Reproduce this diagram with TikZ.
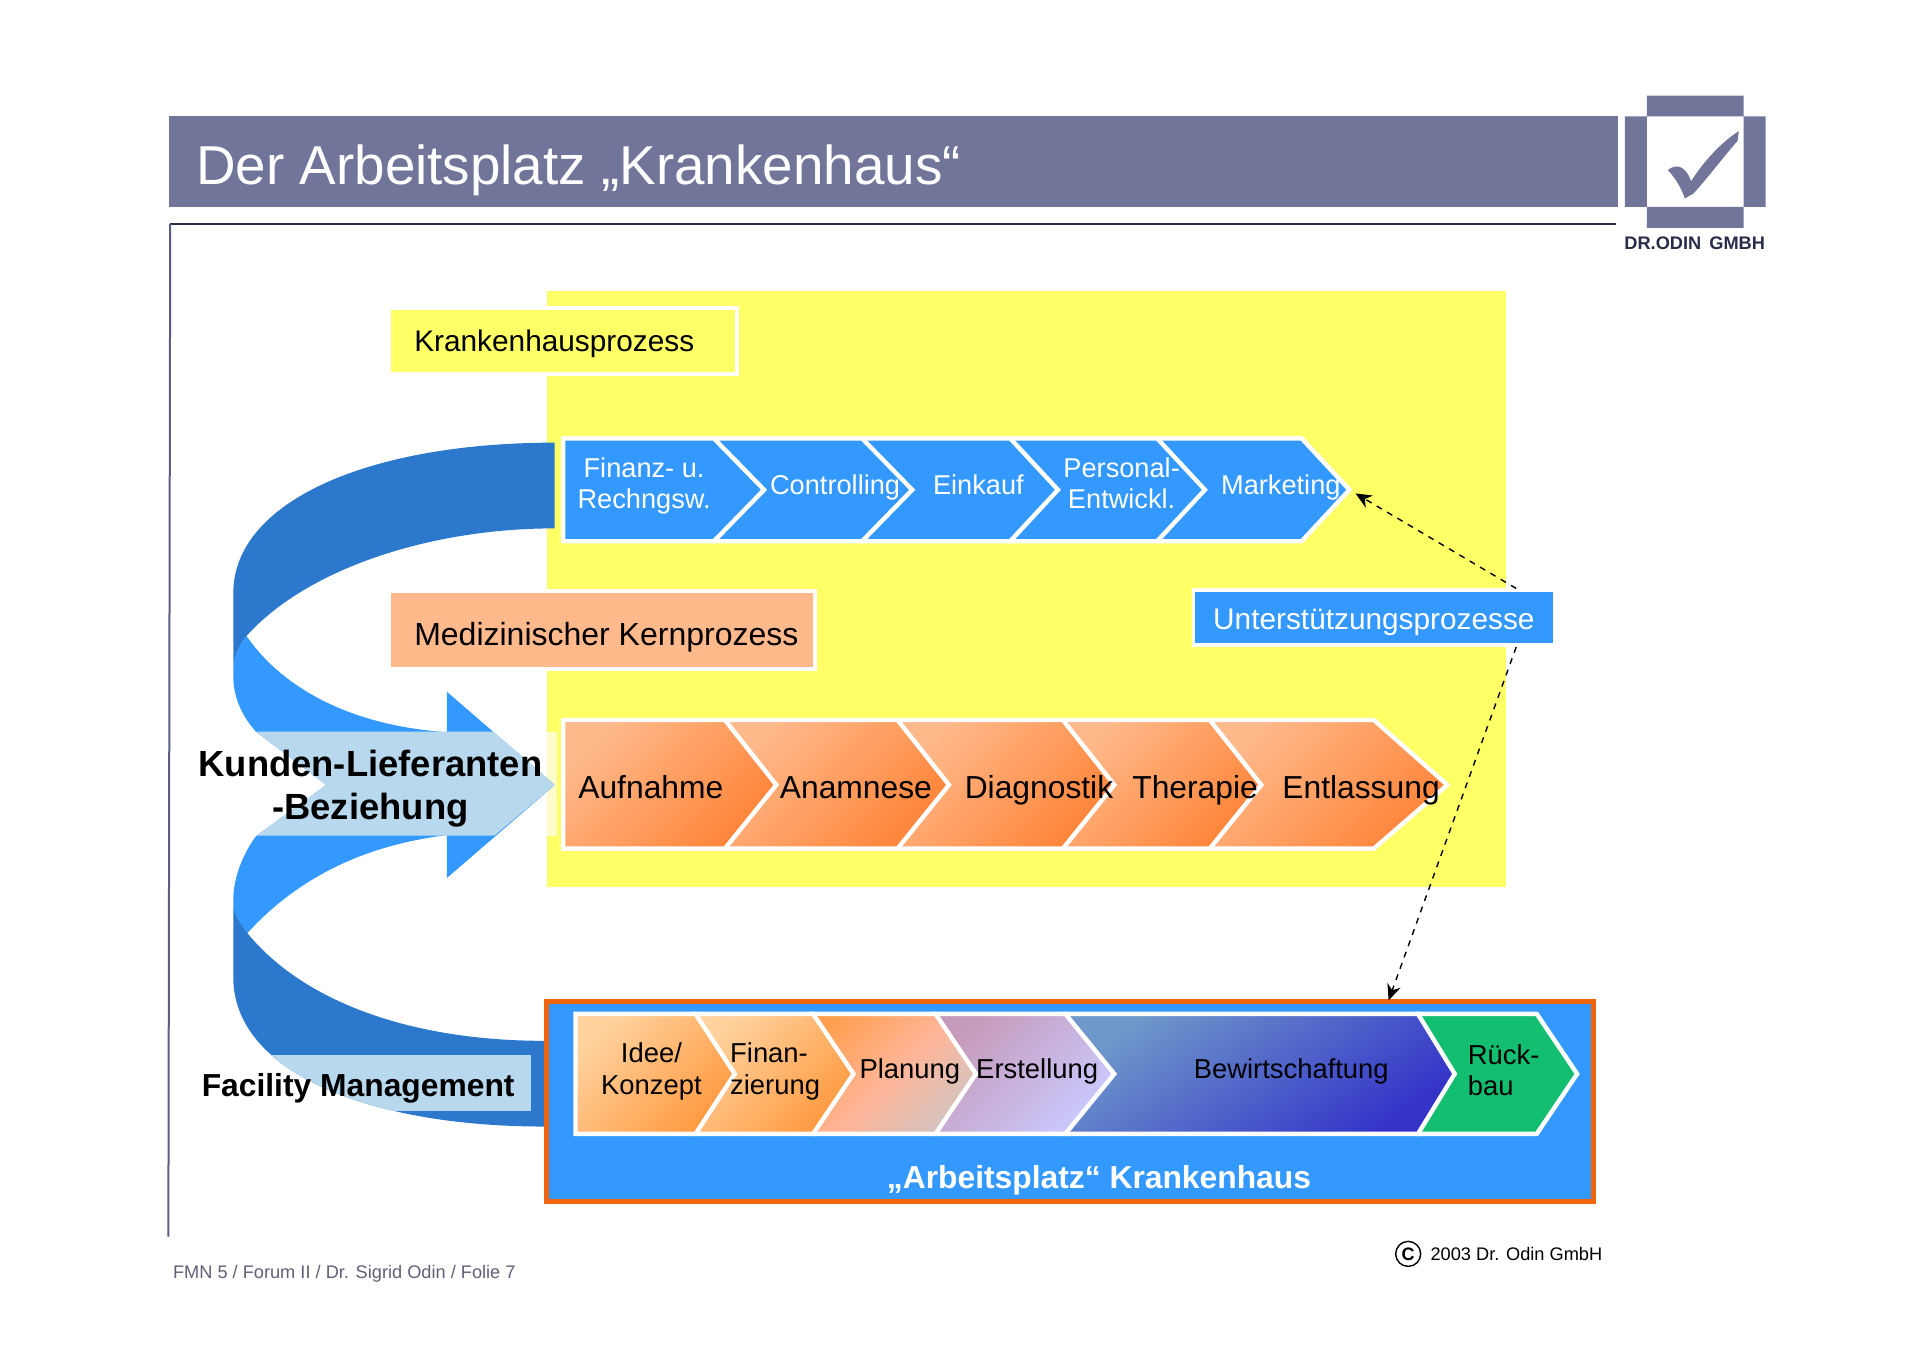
\documentclass[tikz,border=0pt]{standalone}
\usepackage{fontspec}
\setmainfont{Liberation Sans}
\usetikzlibrary{arrows.meta,shadings}
\definecolor{slate}{HTML}{71759A}
\definecolor{navy}{HTML}{2A2D4A}
\definecolor{yel}{HTML}{FFFF66}
\definecolor{sky}{HTML}{3399FF}
\definecolor{rib}{HTML}{2B78CC}
\definecolor{pale}{HTML}{B8D8EE}
\definecolor{peach}{HTML}{FFB98B}
\definecolor{hot}{HTML}{FF8438}
\definecolor{frame}{HTML}{F0650E}
\definecolor{grn}{HTML}{14BE70}
\definecolor{creamA}{HTML}{FFD29E}
\definecolor{creamB}{HTML}{FF9A40}
\definecolor{planB}{HTML}{FFB598}
\definecolor{planC}{HTML}{C8C8CC}
\definecolor{ersA}{HTML}{C69ABA}
\definecolor{ersB}{HTML}{CACAFF}
\definecolor{bewA}{HTML}{6F98CA}
\definecolor{bewB}{HTML}{3333C8}
\pgfdeclareverticalshading{planshade}{100bp}{color(0bp)=(planC); color(18bp)=(planC); color(50bp)=(planB); color(85bp)=(creamB); color(100bp)=(creamB)}
\newcommand{\fs}[1]{\fontsize{#1}{#1}\selectfont}
\tikzset{
  x=0.61224pt,y=-0.61224pt,
  plate/.style={draw=white,line width=2.2pt,miter limit=10},
  blueplate/.style={plate,fill=sky},
  orangeplate/.style={plate,shading=axis,top color=peach,bottom color=hot,shading angle=45},
  creamplate/.style={plate,shading=axis,top color=creamA,bottom color=creamB,shading angle=45},
  bluetext/.style={text=white,font=\fs{13.6},align=center,inner sep=0pt},
  blueline/.style={bluetext,anchor=base},
  blacktext/.style={text=black,font=\fs{15.9},inner sep=0pt,anchor=base},
  lowtext/.style={text=black,font=\fs{13.7},align=center,inner sep=0pt},
  lowline/.style={lowtext,anchor=base},
  lefttext/.style={lowtext,align=left},
  dashline/.style={black,line width=0.7pt,dashed,-{Stealth[length=8pt,width=7pt]}},
}
\newcommand{\lowerpath}{(190.5,740) -- (190.5,798) .. controls (190.5,875) and (300,920) .. (444.5,920) -- (444.5,850) .. controls (330,850) and (245,815) .. (202,762) .. controls (197,755) and (192,748) .. cycle}
\begin{document}
\begin{tikzpicture}
\useasboundingbox (0,0) rectangle (1568,1108);
\fill[white] (0,0) rectangle (1568,1108);
% header
\fill[slate] (138,95) rectangle (1321,169);
\node[anchor=base west,inner sep=0pt,text=white,font=\fs{27.4}] (title) at (160,151) {Der Arbeitsplatz „Krankenhaus“};
\draw[navy,line width=0.7pt] (139,183) -- (1320,183);
\draw[slate!70!navy,line width=1pt] (139,183) -- (137.5,1010);
% logo
\fill[slate] (1345,78) rectangle (1424,95) (1345,169) rectangle (1424,186) (1327,95) rectangle (1345,169) (1424,95) rectangle (1442,169);
\fill[slate] (1362,139) .. controls (1368,134) and (1376,134) .. (1381,148) .. controls (1392,131) and (1405,117) .. (1420,107) -- (1419,115) .. controls (1406,130) and (1394,146) .. (1383,158) -- (1376,162) .. controls (1373,154) and (1369,146) .. cycle;
\node[inner sep=0pt,text=navy,font=\bfseries\fs{9.1}] (logotext) at (1384,199) {DR.ODIN\, GMBH};
% yellow field
\fill[yel] (447,238) rectangle (1230,724);
\fill[yellow!20!white] (447,597.5) rectangle (455,682.5);
% ribbons
\fill[rib] (453,361.5) .. controls (300,361.5) and (190.5,410) .. (190.5,484.5) -- (190.5,544) .. controls (192,535) and (196,526) .. (201.3,519.4) .. controls (250,465) and (350,431.5) .. (453,431.5) -- cycle;
\fill[sky] (201.3,519.4) .. controls (228,558) and (280,592) .. (365,598) -- (365,565) -- (453,641) -- (365,717) -- (365,682) .. controls (300,690) and (245,715) .. (202,762) .. controls (197,755) and (192,748) .. (190.5,740) -- (190.5,735) .. controls (190.5,715) and (200,695) .. (209,683) -- (266.5,641) -- (209,597.5) .. controls (198,585) and (190.5,570) .. (190.5,552) -- (190.5,544) .. controls (192,535) and (196,526) .. cycle;
\fill[rib] \lowerpath;
\fill[pale] (209,597.5) -- (402.6,597.5) -- (453,641) -- (403.6,682.5) -- (209,682.5) -- (266.5,641) -- cycle;
\begin{scope}
\clip (190,862) rectangle (433.6,907);
\fill[pale] \lowerpath;
\end{scope}
\node[inner sep=0pt,align=center,text=black,font=\bfseries\fs{18.2}] (kl) at (302.5,644) {Kunden-Lieferanten\\[3.3pt]-Beziehung};
\node[inner sep=0pt,text=black,font=\bfseries\fs{15.9}] (fm) at (292.5,889) {Facility Management};
% label boxes
\node[anchor=north west,minimum width=174pt,minimum height=33pt,fill=yel,draw=white,line width=1.8pt,inner sep=0pt] (krbox) at (316,250) {};
\node[anchor=west,inner sep=0pt,text=black,font=\fs{14.9}] (krtext) at (338,281) {Krankenhausprozess};
\node[anchor=north west,minimum width=213pt,minimum height=39pt,fill=peach,draw=white,line width=1.8pt,inner sep=0pt] (medbox) at (316,481) {};
\node[anchor=west,inner sep=0pt,text=black,font=\fs{16}] (medtext) at (338,520) {Medizinischer Kernprozess};
\node[minimum width=180.5pt,minimum height=27.5pt,fill=sky,draw=white,line width=1.8pt,inner sep=0pt] (unt) at (1122,504.5) {};
\node[inner sep=0pt,text=white,font=\fs{14.9}] (unttext) at (1122,508) {Unterstützungsprozesse};
% support row
\draw[blueplate] (945,358) -- (1063,358) -- (1102,400) -- (1063,442) -- (945,442) -- cycle;
\draw[blueplate] (825,358) -- (945,358) -- (984,400) -- (945,442) -- (825,442) -- cycle;
\draw[blueplate] (704,358) -- (825,358) -- (864,400) -- (825,442) -- (704,442) -- cycle;
\draw[blueplate] (583,358) -- (704,358) -- (745,400) -- (704,442) -- (583,442) -- cycle;
\draw[blueplate] (460,358) -- (583,358) -- (624,400) -- (583,442) -- (460,442) -- cycle;
\node[bluetext] (s1) at (526,397) {Finanz- u.\\[2pt]Rechngsw.};
\node[blueline] (s2) at (682,404) {Controlling};
\node[blueline] (s3) at (799,404) {Einkauf};
\node[bluetext] (s4) at (916,395) {Personal-\\[2pt]Entwickl.};
\node[blueline] (s5) at (1046,404) {Marketing};
\coordinate (mtip) at (1107,403);
% core row
\draw[orangeplate] (988,588) -- (1122,588) -- (1182,641) -- (1122,693) -- (988,693) -- cycle;
\draw[orangeplate] (868,588) -- (988,588) -- (1030,641) -- (988,693) -- (868,693) -- cycle;
\draw[orangeplate] (733,588) -- (868,588) -- (910,641) -- (868,693) -- (733,693) -- cycle;
\draw[orangeplate] (592,588) -- (733,588) -- (775,641) -- (733,693) -- (592,693) -- cycle;
\draw[orangeplate] (460,588) -- (592,588) -- (634,641) -- (592,693) -- (460,693) -- cycle;
\node[blacktext] (c1) at (531.5,652) {Aufnahme};
\node[blacktext] (c2) at (699,652) {Anamnese};
\node[blacktext] (c3) at (848.5,652) {Diagnostik};
\node[blacktext] (c4) at (976,652) {Therapie};
\node[blacktext] (c5) at (1111.5,652) {Entlassung};
% workplace
\node[anchor=north west,minimum width=523.5pt,minimum height=100.1pt,fill=sky,draw=frame,line width=2.4pt,inner sep=0pt] (work) at (444.5,816) {};
\node[inner sep=0pt,text=white,font=\bfseries\fs{15.9}] (worktext) at (897.5,964) {„Arbeitsplatz“ Krankenhaus};
\draw[plate,fill=grn] (1158,828) -- (1255,828) -- (1288,877) -- (1255,926) -- (1158,926) -- cycle;
\draw[plate,shading=axis,top color=bewA,bottom color=bewB,shading angle=35] (870,828) -- (1158,828) -- (1188,877) -- (1158,926) -- (870,926) -- cycle;
\draw[plate,shading=axis,top color=ersA,bottom color=ersB,shading angle=45] (764,828) -- (870,828) -- (910,877) -- (870,926) -- (764,926) -- cycle;
\draw[plate,shading=planshade,shading angle=45] (664,828) -- (764,828) -- (797,877) -- (764,926) -- (664,926) -- cycle;
\draw[creamplate] (568,828) -- (664,828) -- (697,877) -- (664,926) -- (568,926) -- cycle;
\draw[creamplate] (470,828) -- (568,828) -- (600,877) -- (568,926) -- (470,926) -- cycle;
\node[lowtext] (w1) at (532,875) {Idee/\\[2pt]Konzept};
\node[lefttext] (w2) at (633,875) {Finan-\\[2pt]zierung};
\node[lowline] (w3) at (743,881) {Planung};
\node[lowline] (w4) at (847,881) {Erstellung};
\node[lowline] (w5) at (1054.5,881) {Bewirtschaftung};
\node[lefttext] (w6) at (1228,874) {Rück-\\[2pt]bau};
% dashed connectors
\coordinate (ua) at ([xshift=-20pt]unt.north east);
\coordinate (ub) at ([xshift=-20pt]unt.south east);
\coordinate (wt) at (1134,817);
\draw[dashline] (ua) -- (mtip);
\draw[dashline] (ub) -- (wt);
% footer
\node[anchor=west,inner sep=0pt,text=navy!75!white,font=\fs{9.1}] (foot) at (141,1040) {FMN 5 / Forum II / Dr. Sigrid Odin / Folie 7};
\node[circle,draw=black,line width=0.7pt,minimum size=12.5pt,inner sep=0pt,text=black,font=\bfseries\fs{9}] (cc) at (1150,1024) {C};
\node[anchor=west,inner sep=0pt,text=black,font=\fs{9.1}] (copy) at (1168,1024) {2003 Dr. Odin GmbH};
\end{tikzpicture}
\end{document}
